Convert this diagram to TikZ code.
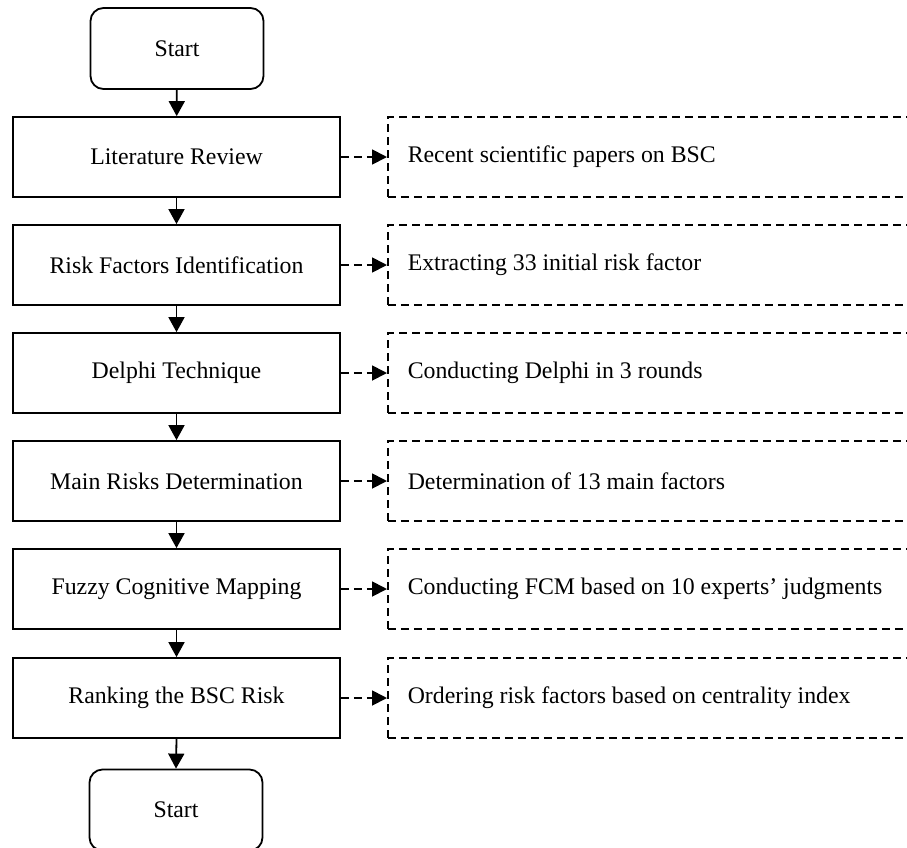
\documentclass[tikz,border=0pt]{standalone}
\usepackage{fontspec}
\setmainfont{Liberation Serif}
\usetikzlibrary{arrows.meta}
\newcommand{\notetext}[1]{\makebox[560pt][l]{#1}}
\begin{document}
\begin{tikzpicture}[x=1pt,y=-1pt,
  every node/.style={font=\fontsize{23.8}{28}\selectfont},
  term/.style={draw,line width=1.8pt,rounded corners=13pt,minimum width=173pt,minimum height=81pt,inner sep=0pt},
  stepbox/.style={draw,line width=1.8pt,minimum width=327pt,minimum height=80pt,inner sep=0pt},
  notebox/.style={draw,line width=1.5pt,dash pattern=on 8pt off 5pt,minimum height=80pt,inner xsep=20pt,inner ysep=0pt,anchor=west},
  flow/.style={line width=1.8pt,-{Triangle[length=15pt,width=16pt]}},
  dflow/.style={line width=1.8pt,dash pattern=on 8pt off 5pt,-{Triangle[length=15pt,width=15pt]}}
]
\useasboundingbox (0,0) rectangle (907,847);
\clip (0,0) rectangle (907,847);
\node[term] (s) at (177,48.5) {Start};
\node[stepbox] (b1) at (176.5,157) {Literature Review};
\node[stepbox] (b2) at (176.5,265) {Risk Factors Identification};
\node[stepbox] (b3) at (176.5,373) {Delphi Technique};
\node[stepbox] (b4) at (176.5,481) {Main Risks Determination};
\node[stepbox] (b5) at (176.5,589) {Fuzzy Cognitive Mapping};
\node[stepbox] (b6) at (176.5,698) {Ranking the BSC Risk};
\node[term] (e) at (176,810) {Start};
\node[notebox] (d1) at (387,157) {\notetext{Recent scientific papers on BSC}};
\node[notebox] (d2) at (387,265) {\notetext{Extracting 33 initial risk factor}};
\node[notebox] (d3) at (387,373) {\notetext{Conducting Delphi in 3 rounds}};
\node[notebox] (d4) at (387,481) {\notetext{Determination of 13 main factors}};
\node[notebox] (d5) at (387,589) {\notetext{Conducting FCM based on 10 experts’ judgments}};
\node[notebox] (d6) at (387,698) {\notetext{Ordering risk factors based on centrality index}};
\draw[flow] (s) -- (b1);
\draw[flow] (b1) -- (b2);
\draw[flow] (b2) -- (b3);
\draw[flow] (b3) -- (b4);
\draw[flow] (b4) -- (b5);
\draw[flow] (b5) -- (b6);
\draw[flow] (b6.south) -- (e.north);
\foreach \i in {1,...,6}{\draw[dflow] (b\i) -- (d\i);}
\end{tikzpicture}
\end{document}
